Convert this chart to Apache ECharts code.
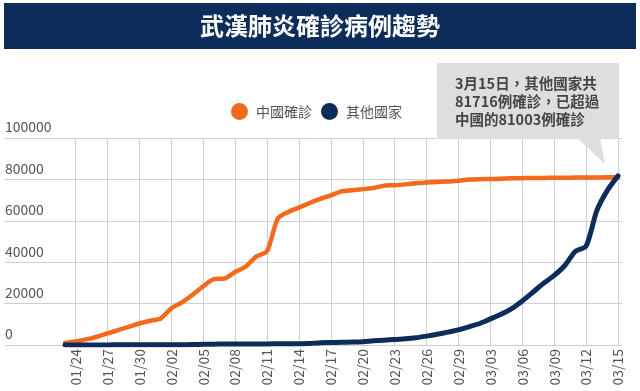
<!DOCTYPE html>
<html>
<head>
<meta charset="utf-8">
<script src="https://cdn.jsdelivr.net/npm/echarts@6/dist/echarts.min.js"></script>
<style>
html,body{margin:0;padding:0;background:#fff;}
#c{width:640px;height:391px;}
</style>
</head>
<body>
<div id="c"></div>
<script>
const dates = ['01/23','01/24','01/25','01/26','01/27','01/28','01/29','01/30','01/31',
'02/01','02/02','02/03','02/04','02/05','02/06','02/07','02/08','02/09','02/10',
'02/11','02/12','02/13','02/14','02/15','02/16','02/17','02/18','02/19','02/20',
'02/21','02/22','02/23','02/24','02/25','02/26','02/27','02/28','02/29',
'03/01','03/02','03/03','03/04','03/05','03/06','03/07','03/08','03/09','03/10',
'03/11','03/12','03/13','03/14','03/15'];

const chinaCases = [1000,1700,2700,4000,5600,7200,8800,10400,11700,
12800,17700,20600,24300,28400,31800,32100,35300,37900,42800,
45300,61000,64300,66400,68600,70600,72300,74200,74800,75300,
75800,77000,77200,77600,78100,78500,78800,79000,79400,
79900,80100,80200,80300,80500,80600,80700,80700,80800,80800,
80900,80900,80950,80980,81003];

const otherCases = [10,20,40,50,60,80,90,110,130,
150,160,170,190,400,420,450,480,500,520,
540,560,600,620,700,1100,1200,1300,1400,1600,
2000,2300,2700,3000,3500,4300,5200,6200,7300,
8800,10400,12600,14800,17600,21300,25500,29800,33600,38400,
45300,47800,64800,74700,81716];

const yTicks = [0,20000,40000,60000,80000,100000];
const seriesNames = ['中國確診','其他國家'];
const titleText = '武漢肺炎確診病例趨勢';
const noteLines = ['3月15日，其他國家共','81716例確診，已超過','中國的81003例確診'];

const ORANGE = '#f4691c';
const NAVY = '#0c2d5a';
const FONT = '"Noto Sans CJK TC","Noto Sans",sans-serif';

const chart = echarts.init(document.getElementById('c'), null, {renderer:'canvas'});
const showIdx = (i) => (i - 1) % 3 === 0;

chart.setOption({
  backgroundColor:'#fff',
  animation:false,
  textStyle:{fontFamily:FONT},
  legend:{
    left:226, top:98,
    icon:'circle', itemWidth:17, itemHeight:17, itemGap:9,
    textStyle:{fontSize:14, color:'#555', fontFamily:FONT, padding:[0,0,0,3]},
    data:seriesNames
  },
  grid:[
    {left:65, right:22, top:138, bottom:46, containLabel:false},
    {left:5, right:18, top:138, bottom:46, containLabel:false}
  ],
  xAxis:[
    {
      type:'category', gridIndex:0, data:dates, boundaryGap:false,
      axisLine:{show:false}, axisTick:{show:false},
      axisLabel:{interval:(i)=>showIdx(i), rotate:90, fontSize:14, color:'#555', margin:4, fontFamily:FONT},
      splitLine:{show:true, interval:(i)=>showIdx(i), lineStyle:{color:'#cfcfcf', width:1}}
    },
    {
      type:'value', gridIndex:1, show:false, min:0, max:1
    }
  ],
  yAxis:[
    {type:'value', gridIndex:0, min:0, max:100000, interval:20000, show:false, splitLine:{show:false}},
    {
      type:'value', gridIndex:1, min:0, max:100000, interval:20000,
      axisLine:{show:false}, axisTick:{show:false},
      axisLabel:{inside:true, margin:0, align:'left', verticalAlign:'bottom', padding:[0,0,4,0],
        fontSize:14, color:'#555', fontFamily:FONT,
        formatter:(v)=> yTicks.indexOf(v) >= 0 ? String(v) : ''},
      splitLine:{show:true, lineStyle:{color:'#cfcfcf', width:1}}
    }
  ],
  series:[
    {
      name:seriesNames[0], type:'line', xAxisIndex:0, yAxisIndex:0, data:chinaCases,
      showSymbol:false, smooth:0.25, z:3,
      itemStyle:{color:ORANGE},
      lineStyle:{color:ORANGE, width:4.5, cap:'round', join:'round'}
    },
    {
      name:seriesNames[1], type:'line', xAxisIndex:0, yAxisIndex:0, data:otherCases,
      showSymbol:false, smooth:0.25, z:4,
      itemStyle:{color:NAVY},
      lineStyle:{color:NAVY, width:5, cap:'round', join:'round'}
    }
  ],
  graphic:[
    {type:'rect', shape:{x:4, y:3, width:632, height:46}, style:{fill:NAVY}, z:10},
    {type:'text', x:320, y:26, style:{text:titleText, fill:'#fff', font:'bold 24px '+FONT, textAlign:'center', textVerticalAlign:'middle'}, z:11},
    {type:'rect', shape:{x:437, y:63, width:182, height:76}, style:{fill:'#dedede'}, z:10},
    {type:'polygon', shape:{points:[[577,138],[600,138],[605,164]]}, style:{fill:'#dedede'}, z:10},
    {type:'text', x:455, y:74, style:{text:noteLines.join('\n'), fill:'#454545', font:'bold 14.5px '+FONT, lineHeight:18, textVerticalAlign:'top'}, z:11}
  ]
});
</script>
</body>
</html>
